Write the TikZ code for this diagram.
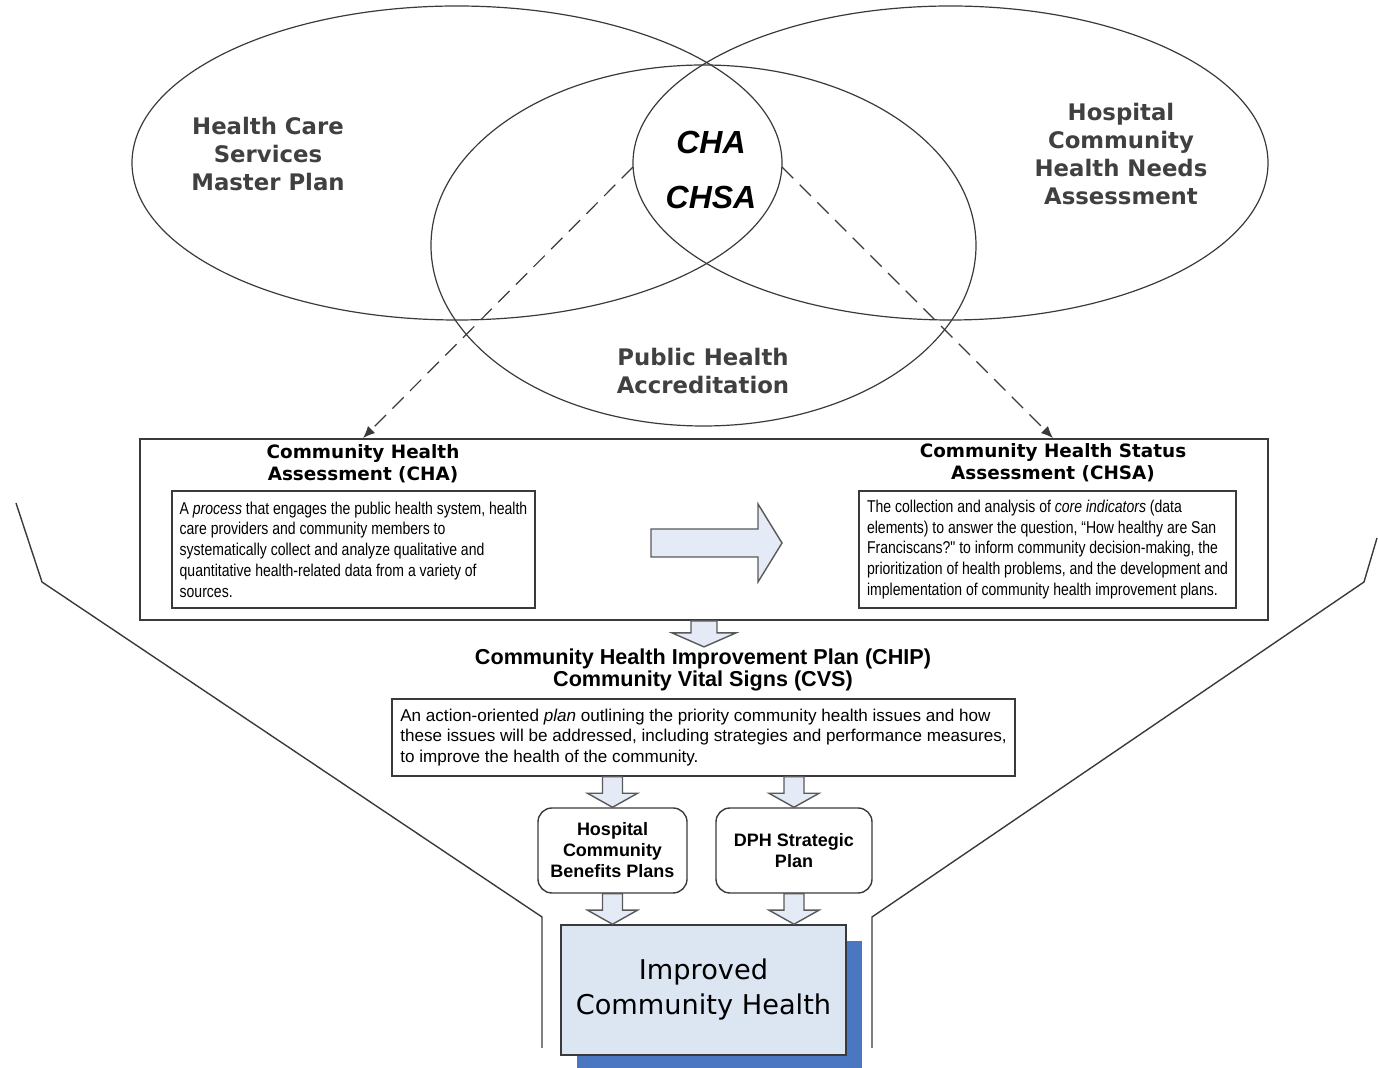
\documentclass[tikz,border=0pt]{standalone}
\usepackage{fontspec}
\setmainfont{Liberation Sans}
\newfontfamily\verdana{DejaVu Sans}
\newfontfamily\narrow{Liberation Sans}[FakeStretch=0.82]
\usepackage{tikz}
\usetikzlibrary{calc}
\usetikzlibrary{arrows.meta}
\usetikzlibrary{shadows}
\definecolor{labelgray}{HTML}{404040}
\definecolor{linegray}{HTML}{3A3A3A}
\definecolor{arrowfill}{HTML}{E4EBF6}
\definecolor{boxfill}{HTML}{DCE6F2}
\definecolor{shadowblue}{HTML}{4A76C2}
\tikzset{
   venn/.style={draw=linegray, line width=0.6pt},
   venn label/.style={font=\verdana\bfseries\fontsize{11.4}{14}\selectfont,
      text=labelgray, align=center},
   lens label/.style={font=\bfseries\itshape\fontsize{16}{18}\selectfont},
   feed/.style={draw=linegray, line width=0.6pt, dash pattern=on 8pt off 4.5pt,
      -{Latex[length=6pt,width=5pt]}},
   outer box/.style={draw=linegray, line width=0.9pt,
      minimum width=564pt, minimum height=90.5pt},
   box title/.style={font=\verdana\bfseries\fontsize{9.2}{11}\selectfont, align=center},
   def box/.style={draw=linegray, line width=0.8pt, align=left, inner sep=0pt,
      minimum height=58.5pt, font=\narrow\fontsize{8.55}{10.35}\selectfont},
   plan title/.style={font=\bfseries\fontsize{10.8}{11}\selectfont, align=center},
   plan box/.style={draw=linegray, line width=0.8pt, align=left, inner sep=0pt,
      minimum width=311.5pt, minimum height=38.5pt,
      font=\fontsize{8.55}{10.25}\selectfont},
   sub plan/.style={draw=linegray, line width=0.7pt, rounded corners=7pt,
      minimum height=42.5pt, align=center, inner sep=0pt,
      font=\bfseries\fontsize{9}{10.5}\selectfont},
   goal/.style={draw=linegray, line width=0.8pt, fill=boxfill, align=center,
      minimum width=142.5pt, minimum height=65pt,
      font=\verdana\fontsize{13.6}{17.5}\selectfont,
      general shadow={fill=shadowblue, shadow xshift=8pt, shadow yshift=-8pt}},
   blk/.style={fill=arrowfill, draw=black!65, line width=0.7pt, line join=miter},
   funnel/.style={draw=linegray, line width=0.7pt},
}
% block arrow pointing down: top, tip, half shaft, half head
\newcommand{\downblock}[4]{%
  \draw[blk] let \p1=(#1), \p2=(#2) in
    (\x1-#3,\y1) -- (\x1+#3,\y1) -- (\x1+#3,\y2+7pt) -- (\x1+#4,\y2+7pt)
    -- (\x1,\y2) -- (\x1-#4,\y2+7pt) -- (\x1-#3,\y2+7pt) -- cycle;}
\begin{document}
\begin{tikzpicture}[x=0.5pt,y=-0.5pt]
    \useasboundingbox (0,0) rectangle (1378,1068);

    % funnel
    \draw[funnel] (16,503) -- (42,582) -- (542,917) -- (542,1048);
    \draw[funnel] (1377,538) -- (1364,582) -- (872,917) -- (872,1048);

    % venn
    \draw[venn] (457,163) ellipse [x radius=325, y radius=157];
    \draw[venn] (950.5,163) ellipse [x radius=317.5, y radius=157];
    \draw[venn] (703.5,245.5) ellipse [x radius=272.5, y radius=180.5];
    \coordinate (lensL) at (633,167);
    \coordinate (lensR) at (782,167);

    \node[venn label] (hcsmp) at (268,154) {Health Care\\Services\\Master Plan};
    \node[venn label] (hchna) at (1121,154) {Hospital\\Community\\Health Needs\\Assessment};
    \node[venn label] (pha) at (703,371) {Public Health\\Accreditation};
    \node[lens label] (cha) at (711,142) {CHA};
    \node[lens label] (chsa) at (711,197) {CHSA};

    % assessments
    \node[outer box] (bigbox) at (704,529.5) {};
    \node[box title] (chahead) at (363,464) {Community Health\\Assessment (CHA)};
    \node[box title] (chsahead) at (1053,462.5) {Community Health Status\\Assessment (CHSA)};
    \node[def box, minimum width=181.5pt] (chatext) at (353.5,549.5)
      {A \textit{process} that engages the public health system, health\\
       care providers and community members to\\
       systematically collect and analyze qualitative and\\
       quantitative health-related data from a variety of\\
       sources.};
    \node[def box, minimum width=188.5pt] (chsatext) at (1047.5,549.5)
      {The collection and analysis of \textit{core indicators} (data\\
       elements) to answer the question, “How healthy are San\\
       Franciscans?" to inform community decision-making, the\\
       prioritization of health problems, and the development and\\
       implementation of community health improvement plans.};
    \draw[blk] (651,529) -- (758,529) -- (758,504) -- (782,543) -- (758,582)
      -- (758,557) -- (651,557) -- cycle;

    \draw[feed] (lensL) -- (chahead.north |- bigbox.north);
    \draw[feed] (lensR) -- (chsahead.north |- bigbox.north);

    % plans
    \node[plan title] (chiphead) at (703,670)
      {Community Health Improvement Plan (CHIP)\\Community Vital Signs (CVS)};
    \node[plan box] (chipbox) at (703.5,737.5)
      {An action-oriented \textit{plan} outlining the priority community health issues and how\\
       these issues will be addressed, including strategies and performance measures,\\
       to improve the health of the community.};
    \node[sub plan, minimum width=74.5pt] (hcbp) at (612.5,850.5)
      {Hospital\\Community\\Benefits Plans};
    \node[sub plan, minimum width=78pt] (dph) at (794,850.5) {DPH Strategic\\Plan};
    \node[goal] (goal) at (703.5,990) {Improved\\Community Health};

    \downblock{bigbox.south}{$(bigbox.south)+(0,26)$}{6.5pt}{16pt}
    \downblock{chipbox.south -| hcbp.north}{hcbp.north}{5pt}{12.5pt}
    \downblock{chipbox.south -| dph.north}{dph.north}{5pt}{12.5pt}
    \downblock{hcbp.south}{hcbp.south |- goal.north}{5pt}{12.5pt}
    \downblock{dph.south}{dph.south |- goal.north}{5pt}{12.5pt}
\end{tikzpicture}
\end{document}
